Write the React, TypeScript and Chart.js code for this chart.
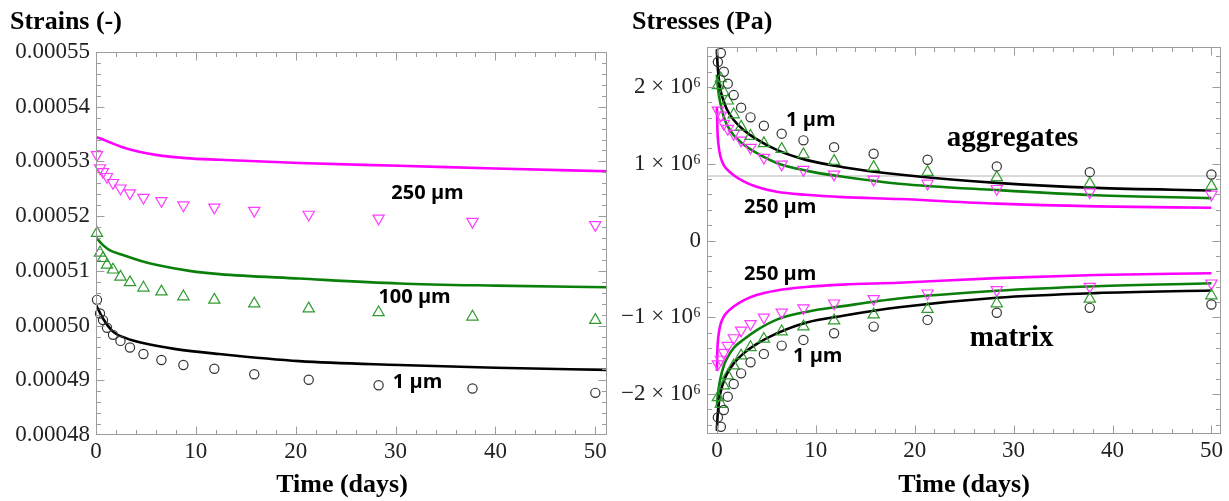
import React, { useEffect, useRef } from "react";
import { Chart, registerables } from "chart.js";

Chart.register(...registerables);

// ---------- shared ----------
const measureDays = [0.1, 0.4, 0.7, 1.1, 1.7, 2.45, 3.4, 4.75, 6.55, 8.75, 11.85, 15.85, 21.3, 28.3, 37.7, 50];
const xTicks = [0, 10, 20, 30, 40, 50];

// ---------- left panel: strains ----------
const strainTicks = [0.00048, 0.00049, 0.0005, 0.00051, 0.00052, 0.00053, 0.00054, 0.00055];

const strainMarks1um = [0.0005047, 0.0005022, 0.000501, 0.0004996, 0.0004983, 0.0004972, 0.000496, 0.0004948, 0.0004937, 0.0004928, 0.0004921, 0.0004911, 0.0004901, 0.0004891, 0.0004885, 0.0004877];
const strainMarks100um = [0.0005169, 0.0005133, 0.0005123, 0.0005111, 0.0005102, 0.0005089, 0.0005079, 0.0005069, 0.0005062, 0.0005053, 0.0005047, 0.000504, 0.0005031, 0.0005024, 0.0005016, 0.000501];
const strainMarks250um = [0.0005312, 0.0005288, 0.0005281, 0.0005272, 0.0005261, 0.0005251, 0.0005242, 0.0005234, 0.0005228, 0.000522, 0.0005216, 0.000521, 0.0005203, 0.0005196, 0.000519, 0.0005184];

const strainModelDays1um = [0, 0.7, 1.7, 3, 4.7, 8, 12.35, 20.35, 30.35, 40, 51.2];
const strainModel1um = [0.0005038, 0.0005013, 0.0004989, 0.0004977, 0.0004968, 0.0004957, 0.0004948, 0.0004935, 0.0004928, 0.0004923, 0.0004919];
const strainModelDays100um = [0, 0.7, 1.35, 2.7, 4.35, 6, 9.35, 12.35, 20.35, 30.35, 40, 51.2];
const strainModel100um = [0.0005161, 0.0005147, 0.0005138, 0.0005129, 0.0005119, 0.0005111, 0.00051, 0.0005094, 0.0005086, 0.0005077, 0.0005073, 0.000507];
const strainModelDays250um = [0, 0.3, 0.7, 1.5, 2.5, 4, 6, 9, 12.35, 20.35, 30.35, 40, 51.2];
const strainModel250um = [0.0005344, 0.0005343, 0.000534, 0.0005334, 0.0005327, 0.0005319, 0.0005312, 0.0005306, 0.0005303, 0.0005297, 0.0005292, 0.0005287, 0.0005282];

// ---------- right panel: stresses ----------
const stressTicks = [-2e6, -1e6, 0, 1e6, 2e6];
const aggRefLevel = 0.84e6;

const aggMarks1um = [2.325e6, 2.442e6, 2.197e6, 2.043e6, 1.894e6, 1.73e6, 1.604e6, 1.495e6, 1.391e6, 1.304e6, 1.216e6, 1.13e6, 1.052e6, 0.965e6, 0.89e6, 0.86e6];
const aggMarks100um = [2.02e6, 2.11e6, 1.93e6, 1.82e6, 1.64e6, 1.48e6, 1.36e6, 1.265e6, 1.19e6, 1.12e6, 1.034e6, 0.956e6, 0.89e6, 0.821e6, 0.739e6, 0.708e6];
const aggMarks250um = [1.695e6, 1.63e6, 1.521e6, 1.456e6, 1.391e6, 1.304e6, 1.21e6, 1.08e6, 0.991e6, 0.922e6, 0.861e6, 0.795e6, 0.743e6, 0.674e6, 0.63e6, 0.6e6];
const matMarks1um = [-2.304e6, -2.425e6, -2.208e6, -2.034e6, -1.868e6, -1.73e6, -1.586e6, -1.477e6, -1.369e6, -1.295e6, -1.208e6, -1.121e6, -1.034e6, -0.941e6, -0.877e6, -0.834e6];
const matMarks100um = [-2.043e6, -2.13e6, -1.89e6, -1.76e6, -1.63e6, -1.5e6, -1.391e6, -1.282e6, -1.186e6, -1.121e6, -1.043e6, -0.965e6, -0.895e6, -0.821e6, -0.76e6, -0.717e6];
const matMarks250um = [-1.61e6, -1.55e6, -1.46e6, -1.37e6, -1.27e6, -1.17e6, -1.086e6, -1.0e6, -0.935e6, -0.88e6, -0.817e6, -0.76e6, -0.687e6, -0.643e6, -0.6e6, -0.557e6];

const stressModelDays = [0, 0.05, 0.15, 0.35, 0.7, 1.0, 1.7, 2.7, 4, 6.05, 9, 12.75, 18.4, 28.3, 38.3, 50];
const aggModel1um = [2.49e6, 2.33e6, 2.16e6, 1.97e6, 1.81e6, 1.71e6, 1.57e6, 1.44e6, 1.32e6, 1.18e6, 1.05e6, 0.955e6, 0.86e6, 0.75e6, 0.685e6, 0.652e6];
const aggModel100um = [2.16e6, 2.06e6, 1.94e6, 1.79e6, 1.61e6, 1.51e6, 1.37e6, 1.25e6, 1.14e6, 1.01e6, 0.91e6, 0.83e6, 0.74e6, 0.657e6, 0.59e6, 0.552e6];
const aggModel250um = [1.74e6, 1.45e6, 1.26e6, 1.1e6, 0.98e6, 0.93e6, 0.85e6, 0.77e6, 0.7e6, 0.635e6, 0.595e6, 0.565e6, 0.54e6, 0.48e6, 0.445e6, 0.426e6];
const matModel1um = [-2.48e6, -2.33e6, -2.17e6, -1.99e6, -1.83e6, -1.74e6, -1.6e6, -1.47e6, -1.35e6, -1.21e6, -1.07e6, -0.98e6, -0.87e6, -0.745e6, -0.685e6, -0.652e6];
const matModel100um = [-2.16e6, -2.07e6, -1.95e6, -1.8e6, -1.63e6, -1.54e6, -1.4e6, -1.29e6, -1.17e6, -1.03e6, -0.93e6, -0.855e6, -0.755e6, -0.655e6, -0.596e6, -0.557e6];
const matModel250um = [-1.7e6, -1.42e6, -1.25e6, -1.1e6, -0.99e6, -0.94e6, -0.86e6, -0.78e6, -0.71e6, -0.65e6, -0.605e6, -0.575e6, -0.55e6, -0.49e6, -0.45e6, -0.426e6];

// ---------- styles ----------
const SERIF = "'Liberation Serif', 'Times New Roman', serif";
const SANS = "'Open Sans', 'Liberation Sans', sans-serif";
const C_BLACK = "#000000";
const C_GREEN = "#0a7f0a";
const C_MAGENTA = "#ff00ff";
const M_BLACK = "#333333";
const M_GREEN = "#2f9a2f";
const M_MAGENTA = "#ff3cff";
const LABEL_FONT = `bold 20px ${SANS}`;
const WORD_FONT = `bold 29px ${SERIF}`;
const TITLE_FONT = `bold 26px ${SERIF}`;

const pts = (xs: number[], ys: number[]) => xs.map((x, i) => ({ x, y: ys[i] }));

const lineSet = (label: string, xs: number[], ys: number[], color: string) => ({
  label,
  data: pts(xs, ys),
  showLine: true,
  borderColor: color,
  borderWidth: 2.6,
  pointRadius: 0,
  cubicInterpolationMode: "monotone",
  fill: false,
});

const markSet = (label: string, ys: number[], style: string, color: string, rotation: number, radius: number) => ({
  label,
  data: pts(measureDays, ys),
  showLine: false,
  pointStyle: style,
  pointRotation: rotation,
  pointRadius: radius,
  pointBorderColor: color,
  pointBackgroundColor: "rgba(0,0,0,0)",
  pointBorderWidth: 1.2,
  borderColor: color,
  backgroundColor: "rgba(0,0,0,0)",
  clip: false,
});

type Note = { text: string; x: number; y: number; font: string };
type Title = { text: string; px: number; py: number; align: CanvasTextAlign };

function minorValues(major: number[], lo: number, hi: number) {
  const step = (major[1] - major[0]) / 5;
  const out: number[] = [];
  for (let k = 1; major[0] - k * step >= lo - 1e-12; k++) out.push(major[0] - k * step);
  for (let i = 0; i < major.length - 1; i++) for (let j = 1; j < 5; j++) out.push(major[i] + j * step);
  const last = major[major.length - 1];
  for (let k = 1; last + k * step <= hi + 1e-12; k++) out.push(last + k * step);
  return out;
}

function framePlugin(xMajor: number[], yMajor: number[], titles: Title[], notes: Note[]) {
  return {
    id: "frameAndNotes",
    afterDraw(chart: any) {
      const { ctx, chartArea: a } = chart;
      const xs = chart.scales.x;
      const ys = chart.scales.y;
      ctx.save();
      ctx.strokeStyle = "#9c9c9c";
      ctx.lineWidth = 1;
      const L = Math.round(a.left) + 0.5;
      const R = Math.round(a.right) - 0.5;
      const T = Math.round(a.top) + 0.5;
      const B = Math.round(a.bottom) - 0.5;
      ctx.strokeRect(L, T, R - L, B - T);
      const seg = (x1: number, y1: number, x2: number, y2: number) => {
        ctx.beginPath();
        ctx.moveTo(x1, y1);
        ctx.lineTo(x2, y2);
        ctx.stroke();
      };
      const xTick = (v: number, len: number) => {
        const p = Math.round(xs.getPixelForValue(v)) + 0.5;
        if (p < L - 0.1 || p > R + 0.1) return;
        seg(p, B, p, B - len);
        seg(p, T, p, T + len);
      };
      const yTick = (v: number, len: number) => {
        const p = Math.round(ys.getPixelForValue(v)) + 0.5;
        if (p < T - 0.1 || p > B + 0.1) return;
        seg(L, p, L + len, p);
        seg(R, p, R - len, p);
      };
      xMajor.forEach((v) => xTick(v, 8));
      minorValues(xMajor, xs.min, xs.max).forEach((v) => xTick(v, 4.5));
      yMajor.forEach((v) => yTick(v, 8));
      minorValues(yMajor, ys.min, ys.max).forEach((v) => yTick(v, 4.5));

      ctx.fillStyle = "#000";
      ctx.textBaseline = "middle";
      titles.forEach((t) => {
        ctx.font = TITLE_FONT;
        ctx.textAlign = t.align;
        ctx.fillText(t.text, t.px, t.py);
      });
      ctx.textAlign = "center";
      notes.forEach((n) => {
        ctx.font = n.font;
        ctx.fillText(n.text, xs.getPixelForValue(n.x), ys.getPixelForValue(n.y));
      });
      ctx.restore();
    },
  };
}

const tickFont = { family: SERIF, size: 23 };

function xScale(min: number, max: number, height: number) {
  return {
    type: "linear",
    min,
    max,
    afterBuildTicks: (s: any) => {
      s.ticks = xTicks.map((v) => ({ value: v }));
    },
    afterFit: (s: any) => {
      s.height = height;
    },
    grid: { display: false, drawTicks: false },
    border: { display: false },
    ticks: { font: tickFont, color: "#222", padding: 3, maxRotation: 0, autoSkip: false, callback: (v: any) => String(v) },
  };
}

function yScale(min: number, max: number, ticks: number[], width: number, fmt: (v: number) => string) {
  return {
    type: "linear",
    min,
    max,
    afterBuildTicks: (s: any) => {
      s.ticks = ticks.map((v) => ({ value: v }));
    },
    afterFit: (s: any) => {
      s.width = width;
    },
    grid: { display: false, drawTicks: false },
    border: { display: false },
    ticks: { font: tickFont, color: "#222", padding: 6, autoSkip: false, callback: (v: any) => fmt(Number(v)) },
  };
}

const baseOptions = (padding: any, scales: any) => ({
  responsive: false,
  animation: false,
  devicePixelRatio: 1,
  events: [],
  layout: { padding },
  plugins: { legend: { display: false }, tooltip: { enabled: false }, title: { display: false } },
  scales,
});

function leftConfig(): any {
  return {
    type: "scatter",
    data: {
      datasets: [
        markSet("1 µm data", strainMarks1um, "circle", M_BLACK, 0, 4.6),
        markSet("100 µm data", strainMarks100um, "triangle", M_GREEN, 0, 6.5),
        markSet("250 µm data", strainMarks250um, "triangle", M_MAGENTA, 180, 6.5),
        lineSet("1 µm model", strainModelDays1um, strainModel1um, C_BLACK),
        lineSet("100 µm model", strainModelDays100um, strainModel100um, C_GREEN),
        lineSet("250 µm model", strainModelDays250um, strainModel250um, C_MAGENTA),
      ],
    },
    options: baseOptions(
      { left: 0, right: 6, top: 52, bottom: 0 },
      {
        x: xScale(0, 51.2, 66),
        y: yScale(0.00048, 0.00055, strainTicks, 96, (v) => v.toFixed(5)),
      }
    ),
    plugins: [
      framePlugin(
        xTicks,
        strainTicks,
        [
          { text: "Strains (-)", px: 10, py: 22, align: "left" },
          { text: "Time (days)", px: 342, py: 485, align: "center" },
        ],
        [
          { text: "250 µm", x: 33.2, y: 0.0005242, font: LABEL_FONT },
          { text: "100 µm", x: 31.9, y: 0.0005052, font: LABEL_FONT },
          { text: "1 µm", x: 32.2, y: 0.0004897, font: LABEL_FONT },
        ]
      ),
    ],
  };
}

const stressFmt = (v: number) => {
  if (Math.abs(v) < 1) return "0";
  return `${v < 0 ? "\u2212" : ""}${Math.round(Math.abs(v) / 1e6)} \u00d7 10\u2076`;
};

function rightConfig(): any {
  return {
    type: "scatter",
    data: {
      datasets: [
        markSet("agg 1 µm data", aggMarks1um, "circle", M_BLACK, 0, 4.6),
        markSet("agg 100 µm data", aggMarks100um, "triangle", M_GREEN, 0, 6.5),
        markSet("agg 250 µm data", aggMarks250um, "triangle", M_MAGENTA, 180, 6.5),
        markSet("mat 1 µm data", matMarks1um, "circle", M_BLACK, 0, 4.6),
        markSet("mat 100 µm data", matMarks100um, "triangle", M_GREEN, 0, 6.5),
        markSet("mat 250 µm data", matMarks250um, "triangle", M_MAGENTA, 180, 6.5),
        lineSet("agg 1 µm model", stressModelDays, aggModel1um, C_BLACK),
        lineSet("agg 100 µm model", stressModelDays, aggModel100um, C_GREEN),
        lineSet("agg 250 µm model", stressModelDays, aggModel250um, C_MAGENTA),
        lineSet("mat 1 µm model", stressModelDays, matModel1um, C_BLACK),
        lineSet("mat 100 µm model", stressModelDays, matModel100um, C_GREEN),
        lineSet("mat 250 µm model", stressModelDays, matModel250um, C_MAGENTA),
        {
          label: "reference",
          data: [
            { x: -1, y: aggRefLevel },
            { x: 51, y: aggRefLevel },
          ],
          showLine: true,
          borderColor: "#b4b4b4",
          borderWidth: 1,
          pointRadius: 0,
        },
      ],
    },
    options: baseOptions(
      { left: 0, right: 6, top: 47, bottom: 0 },
      {
        x: xScale(-1, 51, 67),
        y: yScale(-2.52e6, 2.52e6, stressTicks, 92, stressFmt),
      }
    ),
    plugins: [
      framePlugin(
        xTicks,
        stressTicks,
        [
          { text: "Stresses (Pa)", px: 17, py: 22, align: "left" },
          { text: "Time (days)", px: 349, py: 485, align: "center" },
        ],
        [
          { text: "1 µm", x: 9.5, y: 1.565e6, font: LABEL_FONT },
          { text: "aggregates", x: 29.9, y: 1.326e6, font: WORD_FONT },
          { text: "250 µm", x: 6.4, y: 0.434e6, font: LABEL_FONT },
          { text: "250 µm", x: 6.4, y: -0.443e6, font: LABEL_FONT },
          { text: "1 µm", x: 10.2, y: -1.512e6, font: LABEL_FONT },
          { text: "matrix", x: 29.8, y: -1.282e6, font: WORD_FONT },
        ]
      ),
    ],
  };
}

export default function App() {
  const leftRef = useRef<HTMLCanvasElement>(null);
  const rightRef = useRef<HTMLCanvasElement>(null);

  useEffect(() => {
    const c1 = new Chart(leftRef.current as HTMLCanvasElement, leftConfig());
    const c2 = new Chart(rightRef.current as HTMLCanvasElement, rightConfig());
    return () => {
      c1.destroy();
      c2.destroy();
    };
  }, []);

  return (
    <div style={{ position: "absolute", left: 0, top: 0, width: 1229, height: 501, background: "#fff", overflow: "hidden" }}>
      <canvas ref={leftRef} width={615} height={501} style={{ position: "absolute", left: 0, top: 0, width: 615, height: 501 }} />
      <canvas ref={rightRef} width={614} height={501} style={{ position: "absolute", left: 615, top: 0, width: 614, height: 501 }} />
    </div>
  );
}
